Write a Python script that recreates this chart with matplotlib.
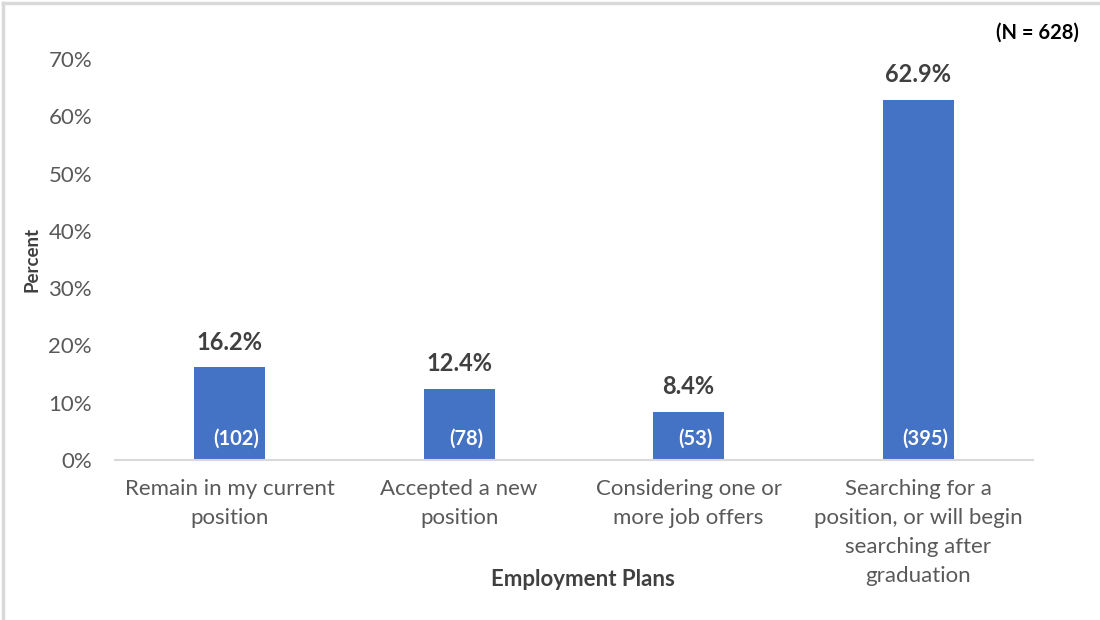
import matplotlib
matplotlib.use('Agg')
from matplotlib import pyplot as plt
from matplotlib.lines import Line2D

categories = ['Remain in my current\nposition',
              'Accepted a new\nposition',
              'Considering one or\nmore job offers',
              'Searching for a\nposition, or will begin\nsearching after\ngraduation']
percents = [16.2, 12.4, 8.4, 62.9]
counts = [102, 78, 53, 395]
y_ticks = [0, 10, 20, 30, 40, 50, 60, 70]

plt.rcParams['font.family'] = ['Lato', 'DejaVu Sans']

fig = plt.figure(figsize=(11, 6.2), dpi=100)
ax = fig.add_axes([0.1045, 0.258, 0.8345, 0.647])

x = list(range(len(categories)))
bars = ax.bar(x, percents, width=0.31, color='#4472C4')

# value labels on top, counts inside
for xi, p, c in zip(x, percents, counts):
    ax.annotate(f'{p:.1f}%', (xi, p), xytext=(0, 18), textcoords='offset points',
                ha='center', va='center', fontsize=17, fontweight='bold', color='#404040')
    ax.text(xi + 0.03, 3.8, f'({c})', ha='center', va='center',
            fontsize=14.5, fontweight='bold', color='white')

ax.set_xlim(-0.5, len(categories) - 0.5)
ax.set_ylim(0, 70)
ax.set_yticks(y_ticks)
ax.set_yticklabels([f'{t}%' for t in y_ticks])
ax.set_xticks(x)
ax.set_xticklabels(categories, linespacing=1.55)
ax.tick_params(axis='both', length=0, labelsize=16, labelcolor='#595959')
ax.tick_params(axis='y', pad=16.5)
ax.tick_params(axis='x', pad=14)

for s in ['top', 'right', 'left']:
    ax.spines[s].set_visible(False)
ax.spines['bottom'].set_color('#D9D9D9')
ax.spines['bottom'].set_linewidth(1.5)

fig.text(0.029, 0.581, 'Percent', rotation=90, ha='center', va='center',
         fontsize=13.5, fontweight='bold', color='#404040')
fig.text(0.53, 0.066, 'Employment Plans', ha='center', va='center',
         fontsize=16, fontweight='bold', color='#404040')
fig.text(0.943, 0.948, '(N = 628)', ha='center', va='center',
         fontsize=14.5, fontweight='bold', color='black')

# light frame on top and left edges
fig.add_artist(Line2D([0.003, 1.0], [0.995, 0.995], color='#D9D9D9', lw=2.5, transform=fig.transFigure))
fig.add_artist(Line2D([0.003, 0.003], [0.0, 0.995], color='#D9D9D9', lw=2.5, transform=fig.transFigure))

fig.savefig('out.png', dpi=100, facecolor='white')
